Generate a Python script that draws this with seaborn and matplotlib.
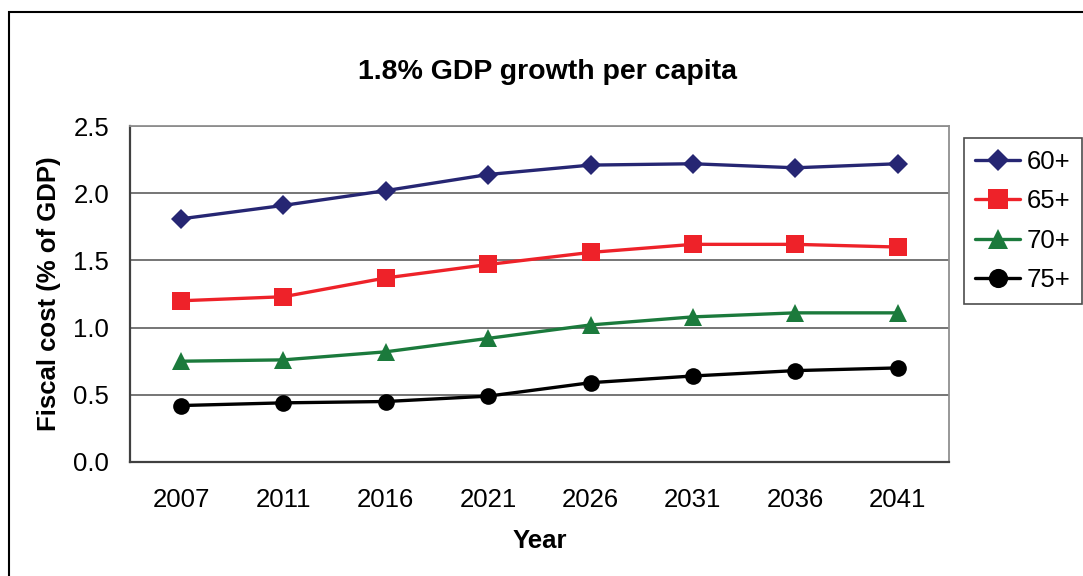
import pandas as pd
import matplotlib.pyplot as plt
import seaborn as sns
from matplotlib.patches import Rectangle

# values
years = ['2007', '2011', '2016', '2021', '2026', '2031', '2036', '2041']
age_60 = [1.81, 1.91, 2.02, 2.14, 2.21, 2.22, 2.19, 2.22]
age_65 = [1.20, 1.23, 1.37, 1.47, 1.56, 1.62, 1.62, 1.60]
age_70 = [0.75, 0.76, 0.82, 0.92, 1.02, 1.08, 1.11, 1.11]
age_75 = [0.42, 0.44, 0.45, 0.49, 0.59, 0.64, 0.68, 0.70]
groups = ['60+', '65+', '70+', '75+']

frames = []
for name, vals in zip(groups, [age_60, age_65, age_70, age_75]):
    frames.append(pd.DataFrame({'Year': years, 'Cost': vals, 'Group': name}))
data = pd.concat(frames, ignore_index=True)
data['pos'] = data['Year'].map({y: i for i, y in enumerate(years)})

sns.set_style('white')
plt.rcParams['font.family'] = ['Liberation Sans', 'DejaVu Sans']
plt.rcParams['text.color'] = 'black'
plt.rcParams['axes.labelcolor'] = 'black'
plt.rcParams['xtick.color'] = 'black'
plt.rcParams['ytick.color'] = 'black'

fig = plt.figure(figsize=(10.83, 5.76), dpi=100)
ax = fig.add_axes([0.120, 0.198, 0.756, 0.583])

palette = {'60+': '#262673', '65+': '#ee2229', '70+': '#1b7a3c', '75+': '#000000'}
markers = {'60+': 'D', '65+': 's', '70+': '^', '75+': 'o'}
sizes = {'60+': 10, '65+': 12.5, '70+': 13, '75+': 12}

for g in groups:
    sns.lineplot(data=data[data['Group'] == g], x='pos', y='Cost', color=palette[g],
                 marker=markers[g], markersize=sizes[g], markeredgewidth=0,
                 linewidth=2.4, label=g, ax=ax, zorder=3)

ax.set_xlim(-0.5, 7.5)
ax.set_ylim(0, 2.5)
ax.set_yticks([0, 0.5, 1.0, 1.5, 2.0, 2.5])
ax.set_yticklabels(['0.0', '0.5', '1.0', '1.5', '2.0', '2.5'])
ax.set_xticks(range(len(years)))
ax.set_xticklabels(years)
ax.set_xticks([i - 0.5 for i in range(len(years) + 1)], minor=True)
ax.tick_params(axis='x', which='major', length=0, pad=19, labelsize=18.5)
ax.tick_params(axis='x', which='minor', length=9, width=1.2, color='#404040', direction='out')
ax.tick_params(axis='y', length=9, width=1.2, color='#404040', direction='out', pad=6, labelsize=18.5)

ax.grid(axis='y', color='#505050', linewidth=1.1)
ax.set_axisbelow(True)
for side in ['left', 'bottom']:
    ax.spines[side].set_color('#404040')
    ax.spines[side].set_linewidth(1.6)
for side in ['top', 'right']:
    ax.spines[side].set_color('#909090')
    ax.spines[side].set_linewidth(1.3)

ax.set_xlabel('Year', fontsize=18.5, fontweight='bold', labelpad=12)
ax.set_ylabel('Fiscal cost (% of GDP)', fontsize=18.5, fontweight='bold', labelpad=9)
fig.text(0.506, 0.875, '1.8% GDP growth per capita', fontsize=20.5, fontweight='bold',
         ha='center', va='center')

leg = ax.legend(loc='upper left', bbox_to_anchor=(0.890, 0.760), bbox_transform=fig.transFigure,
                fontsize=18.5, frameon=True, fancybox=False, edgecolor='#202020',
                handlelength=1.75, handletextpad=0.25, labelspacing=0.6, borderpad=0.45,
                borderaxespad=0, markerscale=1.15)
leg.get_frame().set_linewidth(1.2)

# outer chart frame
fig.patches.append(Rectangle((9 / 1083, -0.05), 1.2, 1 - 12 / 576 + 0.05, transform=fig.transFigure,
                             fill=False, edgecolor='black', linewidth=1.5))

plt.savefig('out.png', dpi=100)
plt.close()
